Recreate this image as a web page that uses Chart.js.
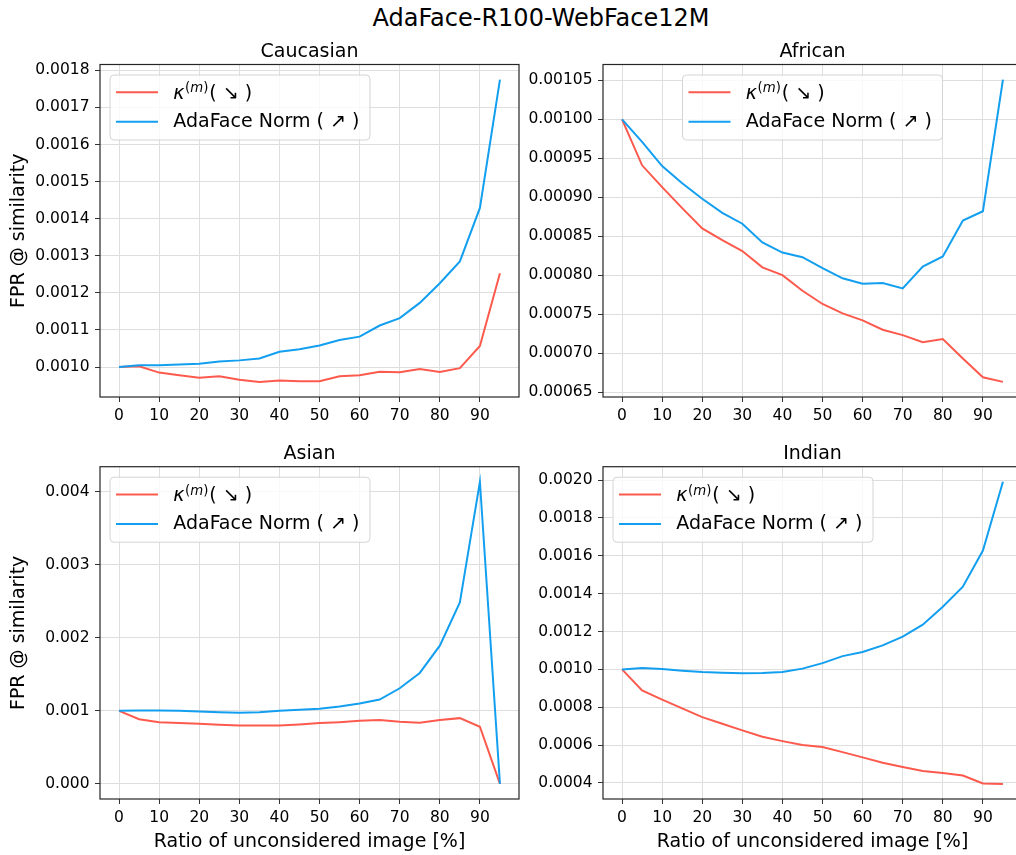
<!DOCTYPE html>
<html>
<head>
<meta charset="utf-8">
<script src="https://cdn.jsdelivr.net/npm/chart.js@4.4.1/dist/chart.umd.min.js"></script>
<style>
html,body{margin:0;padding:0;overflow:hidden;background:#fff;width:1016px;height:855px}
canvas{position:absolute}
#title{position:absolute;left:291px;top:2.5px;width:500px;text-align:center;font:24px "DejaVu Sans",sans-serif;line-height:30px;color:#000}
</style>
</head>
<body>
<div id="title">AdaFace-R100-WebFace12M</div>
<canvas id="cau" width="530" height="430" style="left:0;top:0"></canvas>
<canvas id="afr" width="530" height="430" style="left:503px;top:0"></canvas>
<canvas id="asi" width="530" height="425" style="left:0;top:430px"></canvas>
<canvas id="ind" width="530" height="425" style="left:503px;top:430px"></canvas>
<script>
// x: ratio of unconsidered images (%)
const ratios = [0,5,10,15,20,25,30,35,40,45,50,55,60,65,70,75,80,85,90,95];
const xTicks = [0,10,20,30,40,50,60,70,80,90];

// FPR @ similarity
const cauKappa = [0.001000,0.001002,0.000985,0.000978,0.000971,0.000975,0.000966,0.000960,0.000964,0.000962,0.000962,0.000975,0.000978,0.000987,0.000986,0.000995,0.000987,0.000997,0.001057,0.001253];
const cauNorm  = [0.001000,0.001005,0.001005,0.001007,0.001009,0.001015,0.001018,0.001023,0.001041,0.001048,0.001058,0.001073,0.001082,0.001112,0.001132,0.001173,0.001226,0.001285,0.001429,0.001775];
const afrKappa = [0.001000,0.000941,0.000913,0.000886,0.000860,0.000845,0.000831,0.000810,0.000800,0.000780,0.000763,0.000751,0.000742,0.000730,0.000723,0.000714,0.000718,0.000693,0.000669,0.000663];
const afrNorm  = [0.001000,0.000971,0.000940,0.000918,0.000898,0.000880,0.000866,0.000842,0.000829,0.000823,0.000809,0.000796,0.000789,0.000790,0.000783,0.000811,0.000824,0.000870,0.000882,0.001051];
const asiKappa = [0.001000,0.000886,0.000845,0.000832,0.000823,0.000809,0.000800,0.000800,0.000800,0.000813,0.000832,0.000845,0.000863,0.000873,0.000850,0.000836,0.000873,0.000900,0.000782,0.000000];
const asiNorm  = [0.001000,0.001005,0.001005,0.001000,0.000991,0.000982,0.000973,0.000982,0.001000,0.001014,0.001027,0.001059,0.001100,0.001155,0.001309,0.001519,0.001892,0.002484,0.004135,0.000000];
const indKappa = [0.001000,0.000889,0.000840,0.000794,0.000748,0.000713,0.000678,0.000644,0.000621,0.000600,0.000590,0.000563,0.000535,0.000507,0.000484,0.000463,0.000453,0.000439,0.000397,0.000395];
const indNorm  = [0.001000,0.001007,0.001002,0.000993,0.000986,0.000982,0.000979,0.000981,0.000986,0.001004,0.001033,0.001070,0.001092,0.001127,0.001173,0.001236,0.001331,0.001437,0.001628,0.001991];

// y tick labels per panel
const cauTicks = [0.0010,0.0011,0.0012,0.0013,0.0014,0.0015,0.0016,0.0017,0.0018];
const afrTicks = [0.00065,0.00070,0.00075,0.00080,0.00085,0.00090,0.00095,0.00100,0.00105];
const asiTicks = [0,0.001,0.002,0.003,0.004];
const indTicks = [0.0004,0.0006,0.0008,0.0010,0.0012,0.0014,0.0016,0.0018,0.0020];

const RED = '#fd5a4e', BLUE = '#139ff0';
const FONT = '"DejaVu Sans", sans-serif';

// full box around the plot area, like matplotlib spines
const frame = {id:'frame', afterDraw(c){
  const a=c.chartArea, ctx=c.ctx;
  ctx.save(); ctx.strokeStyle='#262626'; ctx.lineWidth=1.2;
  ctx.strokeRect(a.left, a.top, a.right-a.left, a.bottom-a.top);
  ctx.restore();
}};

function drawKappa(ctx, x, y){
  const b = y + 6.8;
  ctx.textBaseline = 'alphabetic';
  ctx.font = 'italic 19px '+FONT; ctx.fillText('κ', x, b); x += ctx.measureText('κ').width + 0.5;
  const sb = b - 6.8;
  ctx.font = '13.3px '+FONT; ctx.fillText('(', x, sb); x += ctx.measureText('(').width;
  ctx.font = 'italic 13.3px '+FONT; ctx.fillText('m', x, sb); x += ctx.measureText('m').width;
  ctx.font = '13.3px '+FONT; ctx.fillText(')', x, sb); x += ctx.measureText(')').width + 1;
  ctx.font = '19px '+FONT; ctx.fillText('( ↘ )', x, b);
}

// legend drawn inside the axes (upper left / upper center)
const legendBox = {id:'legendBox', afterDatasetsDraw(c, args, o){
  const a=c.chartArea, ctx=c.ctx, w=260, h=65;
  const bx = o.center ? (a.left+a.right)/2 - w/2 : a.left + 10, by = a.top + 10.5;
  ctx.save();
  ctx.beginPath(); ctx.roundRect(bx, by, w, h, 4);
  ctx.fillStyle='rgba(255,255,255,0.8)'; ctx.fill();
  ctx.strokeStyle='#d4d4d4'; ctx.lineWidth=1; ctx.stroke();
  c.data.datasets.forEach((ds,i)=>{
    const ry = by + 17.3 + i*29.4;
    ctx.strokeStyle=ds.borderColor; ctx.lineWidth=2;
    ctx.beginPath(); ctx.moveTo(bx+6, ry); ctx.lineTo(bx+48, ry); ctx.stroke();
    ctx.fillStyle='#000'; ctx.textAlign='left';
    if(i===0) drawKappa(ctx, bx+63.3, ry);
    else { ctx.textBaseline='middle'; ctx.font='19px '+FONT; ctx.fillText(ds.label, bx+63.3, ry); }
  });
  ctx.restore();
}};

function panel(id, title, kappa, norm, yTicks, dec, opt){
  const all = kappa.concat(norm), lo = Math.min(...all), hi = Math.max(...all), pad = (hi-lo)*0.05;
  const xpad = (ratios[ratios.length-1]-ratios[0])*0.05;
  const tickFont = {size:15.5, family:FONT};
  return new Chart(document.getElementById(id), {
    type:'line',
    data:{datasets:[
      {label:'κ(m)( ↘ )', data:ratios.map((r,i)=>({x:r,y:kappa[i]})), borderColor:RED, borderWidth:2, pointRadius:0, tension:0, order:1},
      {label:'AdaFace Norm ( ↗ )', data:ratios.map((r,i)=>({x:r,y:norm[i]})), borderColor:BLUE, borderWidth:2, pointRadius:0, tension:0, order:0}
    ]},
    options:{
      responsive:false, animation:false,
      layout:{padding:{left:0,right:11,top:0,bottom:0}},
      plugins:{
        legend:{display:false}, tooltip:{enabled:false},
        title:{display:true, fullSize:false, text:title, color:'#000', font:{size:19,family:FONT,weight:'normal',lineHeight:1.2}, padding:{top:opt.tp,bottom:1.4}},
        legendBox:{center:!!opt.center}
      },
      scales:{
        x:{type:'linear', min:ratios[0]-xpad, max:ratios[ratios.length-1]+xpad,
          afterBuildTicks:s=>{ s.ticks = xTicks.map(v=>({value:v})); },
          afterFit:s=>{ s.height = opt.xh; },
          ticks:{font:tickFont, color:'#000', padding:5},
          grid:{color:'#dedede', tickColor:'#333', tickLength:5},
          border:{display:false},
          title:{display:!!opt.xt, text:'Ratio of unconsidered image [%]', color:'#000', font:{size:19,family:FONT,lineHeight:1.2}, padding:{top:0,bottom:1.5}}},
        y:{type:'linear', min:lo-pad, max:hi+pad,
          afterBuildTicks:s=>{ s.ticks = yTicks.map(v=>({value:v})); },
          afterFit:s=>{ s.width = 100; },
          ticks:{font:tickFont, color:'#000', padding:5.5, callback:v=>Number(v).toFixed(dec)},
          grid:{color:'#dedede', tickColor:'#333', tickLength:5},
          border:{display:false},
          title:{display:!!opt.yt, text:'FPR @ similarity', color:'#000', font:{size:19,family:FONT,lineHeight:1.2}, padding:{top:8,bottom:0}}}
      }
    },
    plugins:[frame, legendBox]
  });
}

panel('cau', 'Caucasian', cauKappa, cauNorm, cauTicks, 4, {tp:40.3, xh:33, yt:true});
panel('afr', 'African', afrKappa, afrNorm, afrTicks, 5, {tp:40.3, xh:33, center:true});
panel('asi', 'Asian', asiKappa, asiNorm, asiTicks, 3, {tp:12.5, xh:56, yt:true, xt:true});
panel('ind', 'Indian', indKappa, indNorm, indTicks, 4, {tp:12.5, xh:56, xt:true});
</script>
</body>
</html>
